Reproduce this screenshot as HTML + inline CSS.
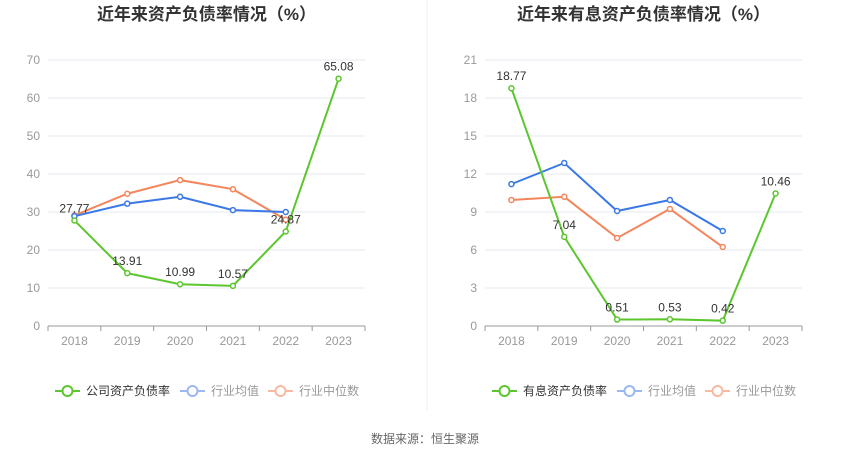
<!DOCTYPE html>
<html><head><meta charset="utf-8">
<style>
body{margin:0;width:850px;height:459px;background:#fff;font-family:"Liberation Sans","Noto Sans CJK SC",sans-serif;overflow:hidden}
svg text{font-family:"Liberation Sans","Noto Sans CJK SC",sans-serif}
</style></head><body>
<svg id="c" width="850" height="459"></svg>
<script>
const years=["2018","2019","2020","2021","2022","2023"];
const leftCompany=[27.77,13.91,10.99,10.57,24.87,65.08];
const leftMean=[28.9,32.2,34.0,30.5,30.0];
const leftMedian=[29.1,34.8,38.4,36.0,28.0];
const leftTicks=[0,10,20,30,40,50,60,70];
const rightCompany=[18.77,7.04,0.51,0.53,0.42,10.46];
const rightMean=[11.2,12.87,9.08,9.95,7.5];
const rightMedian=[9.95,10.2,6.95,9.24,6.24];
const rightTicks=[0,3,6,9,12,15,18,21];

const NS="http://www.w3.org/2000/svg";
const svg=document.getElementById('c');
function mk(tag,attrs,parent,name,text){
  const e=document.createElementNS(NS,tag);
  for(const k in attrs)e.setAttribute(k,attrs[k]);
  
  
  if(text!==undefined)e.textContent=text;
  (parent||svg).appendChild(e);return e;
}
function chart(o){
  const g=mk('g',{},svg,o.name);
  const y0=326,y1=60,max=o.ticks[o.ticks.length-1];
  const Y=v=>y0-(v/max)*(y0-y1);
  const bw=(o.x1-o.x0)/years.length;
  const X=i=>o.x0+bw*(i+0.5);
  mk('text',{x:(o.x0+o.x1)/2,y:20,'text-anchor':'middle','font-size':17,'font-weight':'bold',fill:'#333'},g,'chart-title',o.title);
  o.ticks.forEach(t=>{
    if(t>0)mk('line',{x1:o.x0,x2:o.x1,y1:Y(t),y2:Y(t),stroke:'#e6e9f0'},g,'grid-line');
    mk('text',{x:o.x0-8,y:Y(t)+4,'text-anchor':'end','font-size':12,fill:'#999'},g,'y-tick-label',t);
  });
  mk('line',{x1:o.x0,x2:o.x1,y1:y0,y2:y0,stroke:'#999'},g,'x-axis');
  years.forEach((yr,i)=>{
    mk('line',{x1:o.x0+bw*i,x2:o.x0+bw*i,y1:y0,y2:y0+5,stroke:'#999'},g,'x-tick');
    mk('text',{x:X(i),y:345,'text-anchor':'middle','font-size':12,fill:'#999'},g,'x-tick-label',yr);
  });
  mk('line',{x1:o.x1,x2:o.x1,y1:y0,y2:y0+5,stroke:'#999'},g,'x-tick');
  const series=[[o.median,'#f4865e','industry-median-line'],[o.mean,'#3b78e7','industry-mean-line'],[o.company,'#5cc62e','company-line']];
  series.forEach(([d,c,n])=>{
    mk('polyline',{points:d.map((v,i)=>X(i)+','+Y(v)).join(' '),fill:'none',stroke:c,'stroke-width':2},g,n);
    d.forEach((v,i)=>mk('circle',{cx:X(i),cy:Y(v),r:2.5,fill:'#fff',stroke:c,'stroke-width':1.5},g,n+'-point'));
  });
  o.company.forEach((v,i)=>mk('text',{x:X(i),y:Y(v)-8,'text-anchor':'middle','font-size':12,fill:'#333'},g,'value-label',v.toFixed(2)));
  const lg=[[o.legend,'#5cc62e','#333'],['行业均值','#9bb8f3','#999'],['行业中位数','#f9b9a0','#999']];
  const lx=[o.x0+7,o.x0+132,o.x0+220];
  lg.forEach(([t,c,tc],k)=>{
    const x=lx[k];
    const e=mk('g',{},g,'legend-entry');
    
    mk('line',{x1:x,x2:x+25,y1:391,y2:391,stroke:c,'stroke-width':2},e,'legend-line');
    mk('circle',{cx:x+12.5,cy:391,r:5,fill:'#fff',stroke:c,'stroke-width':2},e,'legend-marker');
    mk('text',{x:x+31,y:395,'font-size':12,fill:tc},e,'legend-label',t);
  });
}
chart({name:'left-chart',title:'近年来资产负债率情况（%）',x0:48,x1:365,ticks:leftTicks,company:leftCompany,mean:leftMean,median:leftMedian,legend:'公司资产负债率'});
chart({name:'right-chart',title:'近年来有息资产负债率情况（%）',x0:485,x1:802,ticks:rightTicks,company:rightCompany,mean:rightMean,median:rightMedian,legend:'有息资产负债率'});
mk('line',{x1:427,x2:427,y1:0,y2:410,stroke:'#eee'},svg,'divider');
mk('text',{x:425,y:443,'text-anchor':'middle','font-size':12,fill:'#666'},svg,'source-note','数据来源：恒生聚源');
</script>
</body></html>
